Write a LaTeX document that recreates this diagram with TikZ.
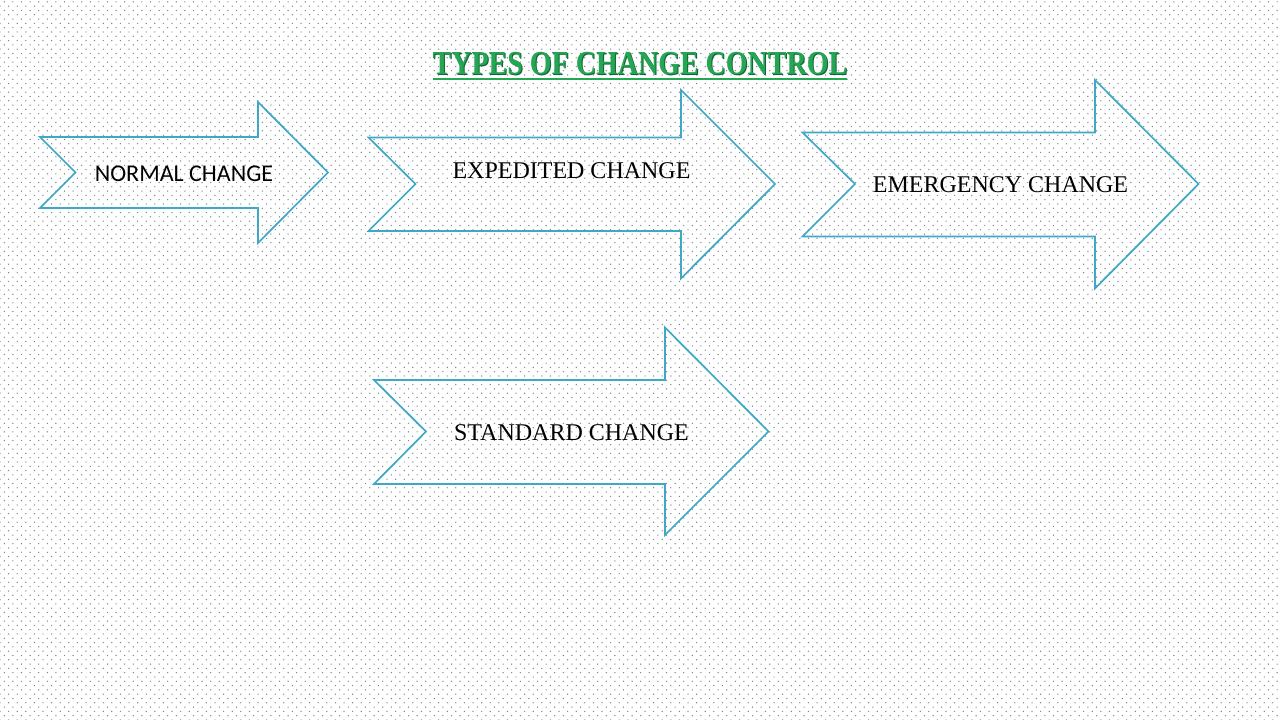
\documentclass[tikz,border=0pt]{standalone}
\usepackage{fontspec}
\setmainfont{Liberation Serif}
\newfontfamily\calibri{Carlito}
\usetikzlibrary{patterns}
\pgfdeclarepatternformonly{stagdots}{\pgfpoint{-1pt}{-1pt}}{\pgfpoint{9.6pt}{9.6pt}}{\pgfpoint{8.6pt}{8.6pt}}{%
  \pgfpathcircle{\pgfpoint{0pt}{0pt}}{0.7pt}%
  \pgfpathcircle{\pgfpoint{4.3pt}{4.3pt}}{0.7pt}%
  \pgfusepath{fill}}
\definecolor{arrowcyan}{RGB}{62,168,198}
\definecolor{titlegreen}{RGB}{36,166,84}
\definecolor{shadowgreen}{RGB}{18,100,52}
\definecolor{dotgray}{RGB}{120,130,134}
\tikzset{
  arrowshape/.style={draw=arrowcyan, line width=1.7pt, line join=miter},
  serlabel/.style={font=\fontsize{24}{28}\selectfont, text=black, inner sep=0pt},
  callabel/.style={font=\calibri\fontsize{24}{28}\selectfont, text=black, inner sep=0pt},
  titletext/.style={font=\bfseries\fontsize{28}{32}\selectfont, inner sep=0pt, yscale=1.2}
}
\begin{document}
\begin{tikzpicture}[x=1pt,y=-1pt]
\useasboundingbox (0,0) rectangle (1280,720);
\fill[white] (0,0) rectangle (1280,720);
\fill[pattern=stagdots, pattern color=dotgray] (0,0) rectangle (1280,720);

% title
\node[titletext, text=shadowgreen] (titleshadow) at (641,65) {TYPES OF CHANGE CONTROL};
\node[titletext, text=titlegreen] (title) at (640,64) {TYPES OF CHANGE CONTROL};
\coordinate (ulA) at (433,79);
\coordinate (ulB) at (847,79);
\draw[titlegreen, line width=2pt] (ulA) -- (ulB);

% normal change
\draw[arrowshape] (40,137) -- (258,137) -- (258,102) -- (328,172.5) -- (258,243) -- (258,208) -- (40,208) -- (75.5,172.5) -- cycle;
\node[callabel] (normal) at (184,173.5) {NORMAL CHANGE};

% expedited change
\draw[arrowshape] (368.5,137.5) -- (681,137.5) -- (681,90) -- (775,184) -- (681,278.5) -- (681,231) -- (368.5,231) -- (415.5,184) -- cycle;
\node[serlabel] (expedited) at (571.5,171) {EXPEDITED CHANGE};

% emergency change
\draw[arrowshape] (802.5,132.5) -- (1095,132.5) -- (1095,80) -- (1198.5,184) -- (1095,288.5) -- (1095,236.5) -- (802.5,236.5) -- (855,184) -- cycle;
\node[serlabel] (emergency) at (1000.5,184.5) {EMERGENCY CHANGE};

% standard change
\draw[arrowshape] (374,380) -- (665,380) -- (665,327.5) -- (768.5,431.5) -- (665,535) -- (665,484) -- (374,484) -- (426,431.5) -- cycle;
\node[serlabel] (standard) at (571.5,432.5) {STANDARD CHANGE};
\end{tikzpicture}
\end{document}
